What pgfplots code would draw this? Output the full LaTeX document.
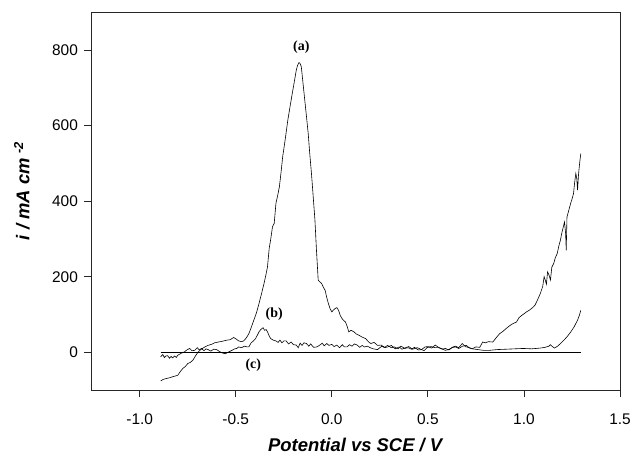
\documentclass[border=0pt]{standalone}
\usepackage{pgfplots}
\pgfplotsset{compat=1.18}
\usepackage{fontspec}
\setmainfont{Liberation Sans}
\newfontfamily\serifb{Liberation Serif}
\begin{document}
\begin{tikzpicture}
\path[use as bounding box] (-91.7bp,-66bp) rectangle (538.3bp,390bp);
\begin{axis}[
  scale only axis,
  width=528.3bp, height=377.7bp,
  xmin=-1.25, xmax=1.5, ymin=-100, ymax=900,
  xtick={-1,-0.5,0,0.5,1,1.5},
  ytick={0,200,400,600,800},
  xtick pos=bottom, ytick pos=left,
  tick align=outside,
  major tick length=7.3bp,
  axis line style={line width=0.8bp, black!85},
  every tick/.style={line width=0.8bp, black!85},
  /pgf/number format/assume math mode=true,
  xticklabel style={/pgf/number format/.cd, fixed, fixed zerofill, precision=1, /tikz/.cd, font=\fontsize{15.5}{18}\selectfont, yshift=-13bp},
  yticklabel style={/pgf/number format/.cd, fixed, precision=0, /tikz/.cd, font=\fontsize{15.5}{18}\selectfont, xshift=-3bp},
  scaled ticks=false,
  xlabel={\textbf{\textit{Potential vs SCE / V}}},
  xlabel style={at={(axis description cs:0.5,-0.164)}, anchor=base, font=\fontsize{18.5}{22}\selectfont},
  ylabel={\textbf{\textit{i / mA cm\hspace{0.25em}\textsuperscript{-2}}}},
  ylabel style={at={(axis description cs:-0.132,0.527)}, anchor=center, rotate=0, font=\fontsize{18.5}{22}\selectfont},
  clip=false,
]
% curve (a)
\addplot[black, line width=0.6bp, mark=none] coordinates {
(-0.891,-76) (-0.878,-72) (-0.865,-70) (-0.848,-68) (-0.829,-65) (-0.815,-63) (-0.802,-61)
(-0.790,-52) (-0.776,-43) (-0.763,-38) (-0.750,-30) (-0.737,-27) (-0.723,-21) (-0.710,-10)
(-0.697,0) (-0.680,8) (-0.661,14) (-0.645,18) (-0.626,21) (-0.610,25) (-0.591,27)
(-0.570,29) (-0.547,32) (-0.530,33) (-0.511,39) (-0.498,35) (-0.485,30) (-0.470,28)
(-0.459,30) (-0.445,38) (-0.432,49) (-0.420,65) (-0.406,85) (-0.392,105) (-0.379,129)
(-0.366,155) (-0.353,182) (-0.344,203) (-0.335,226) (-0.326,275) (-0.318,300) (-0.309,332)
(-0.300,341) (-0.291,394) (-0.282,415) (-0.273,438) (-0.264,478) (-0.256,517) (-0.242,566)
(-0.229,615) (-0.216,655) (-0.203,694) (-0.194,720) (-0.185,747) (-0.178,760) (-0.171,767)
(-0.165,764) (-0.159,756) (-0.150,712) (-0.141,668) (-0.132,624) (-0.123,579) (-0.115,526)
(-0.106,473) (-0.097,412) (-0.088,350) (-0.080,270) (-0.071,191) (-0.062,186) (-0.053,182)
(-0.044,172) (-0.035,164) (-0.027,146) (-0.018,129) (-0.009,115) (0.000,107) (0.009,112)
(0.018,116) (0.026,118) (0.035,111) (0.044,97) (0.053,89) (0.062,84) (0.071,80)
(0.080,68) (0.088,54) (0.100,58) (0.115,54) (0.128,48) (0.141,45) (0.158,40)
(0.176,36) (0.190,28) (0.203,23) (0.220,26) (0.238,18) (0.256,19) (0.275,13)
(0.290,18) (0.310,12) (0.326,14) (0.345,9) (0.360,16) (0.380,10) (0.397,12)
(0.415,8) (0.430,13) (0.450,6) (0.467,7) (0.485,14) (0.500,15) (0.520,11) (0.538,19)
(0.555,13) (0.575,8) (0.591,10) (0.610,6) (0.630,14) (0.644,16) (0.660,12) (0.679,23)
(0.695,15) (0.714,12) (0.730,9) (0.750,14) (0.770,13) (0.785,27) (0.800,25) (0.815,28)
(0.838,27) (0.855,38) (0.873,49) (0.890,55) (0.908,63) (0.925,70) (0.940,75) (0.961,80)
(0.975,92) (0.990,98) (1.014,107) (1.030,112) (1.045,118) (1.058,125) (1.072,140)
(1.085,155) (1.098,175) (1.105,200) (1.111,191) (1.117,180) (1.123,213) (1.130,205)
(1.138,191) (1.145,225) (1.155,235) (1.163,250) (1.173,261) (1.182,282) (1.190,297)
(1.198,318) (1.205,332) (1.211,345) (1.217,314) (1.220,270) (1.224,358) (1.233,375)
(1.243,394) (1.250,405) (1.258,420) (1.264,450) (1.270,473) (1.275,460) (1.279,429)
(1.284,470) (1.288,491) (1.292,510) (1.296,526)
};
% curve (b)
\addplot[black, line width=0.6bp, mark=none] coordinates {
(-0.891,-12) (-0.880,-6) (-0.872,-14) (-0.864,-10) (-0.855,-9) (-0.845,-16) (-0.837,-11)
(-0.829,-15) (-0.818,-10) (-0.810,-14) (-0.802,-8) (-0.785,-3) (-0.767,1) (-0.755,6)
(-0.740,10) (-0.728,4) (-0.714,5) (-0.700,12) (-0.690,6) (-0.679,10) (-0.665,4)
(-0.655,9) (-0.644,7) (-0.630,3) (-0.615,8) (-0.600,7) (-0.585,2) (-0.570,-2)
(-0.554,-4) (-0.540,0) (-0.520,5) (-0.505,9) (-0.495,10) (-0.485,14) (-0.470,12)
(-0.455,16) (-0.440,14) (-0.432,14) (-0.420,25) (-0.408,30) (-0.397,36) (-0.388,45)
(-0.379,54) (-0.370,60) (-0.358,65) (-0.350,58) (-0.342,60) (-0.335,54) (-0.325,42)
(-0.318,36) (-0.305,32) (-0.291,30) (-0.280,26) (-0.270,32) (-0.260,25) (-0.250,30)
(-0.238,30) (-0.225,22) (-0.212,27) (-0.200,20) (-0.185,19) (-0.175,12) (-0.165,24)
(-0.155,18) (-0.145,25) (-0.132,23) (-0.120,16) (-0.110,22) (-0.095,13) (-0.079,14)
(-0.065,18) (-0.050,24) (-0.040,17) (-0.026,23) (-0.015,18) (0.000,21) (0.012,15)
(0.026,19) (0.040,12) (0.055,20) (0.065,14) (0.079,14) (0.092,20) (0.105,16)
(0.118,22) (0.132,19) (0.145,13) (0.158,18) (0.170,14) (0.185,16) (0.200,12)
(0.215,9) (0.238,7) (0.260,16) (0.275,12) (0.291,14) (0.310,18) (0.330,9)
(0.350,14) (0.365,8) (0.379,11) (0.400,15) (0.420,8) (0.445,12) (0.467,7)
(0.480,4) (0.495,12) (0.515,15) (0.540,12) (0.556,12) (0.575,9) (0.590,5) (0.608,7)
(0.625,12) (0.645,14) (0.661,10) (0.680,16) (0.700,18) (0.715,12) (0.732,9)
(0.760,7) (0.790,5) (0.820,5) (0.860,7) (0.908,8) (0.950,9) (0.996,10) (1.040,9)
(1.085,11) (1.110,13) (1.130,16) (1.138,20) (1.148,15) (1.159,11) (1.175,16)
(1.190,23) (1.208,32) (1.226,42) (1.244,54) (1.261,67) (1.279,85) (1.288,97) (1.296,111)
};
% curve (c)
\addplot[black, line width=0.6bp, mark=none] coordinates {(-0.891,0) (1.296,0)};
\node[font=\serifb\bfseries\fontsize{14}{16}\selectfont] at (axis cs:-0.159,809) {(a)};
\node[font=\serifb\bfseries\fontsize{14}{16}\selectfont] at (axis cs:-0.300,101) {(b)};
\node[font=\serifb\bfseries\fontsize{14}{16}\selectfont] at (axis cs:-0.409,-34) {(c)};
\end{axis}
\end{tikzpicture}
\end{document}
